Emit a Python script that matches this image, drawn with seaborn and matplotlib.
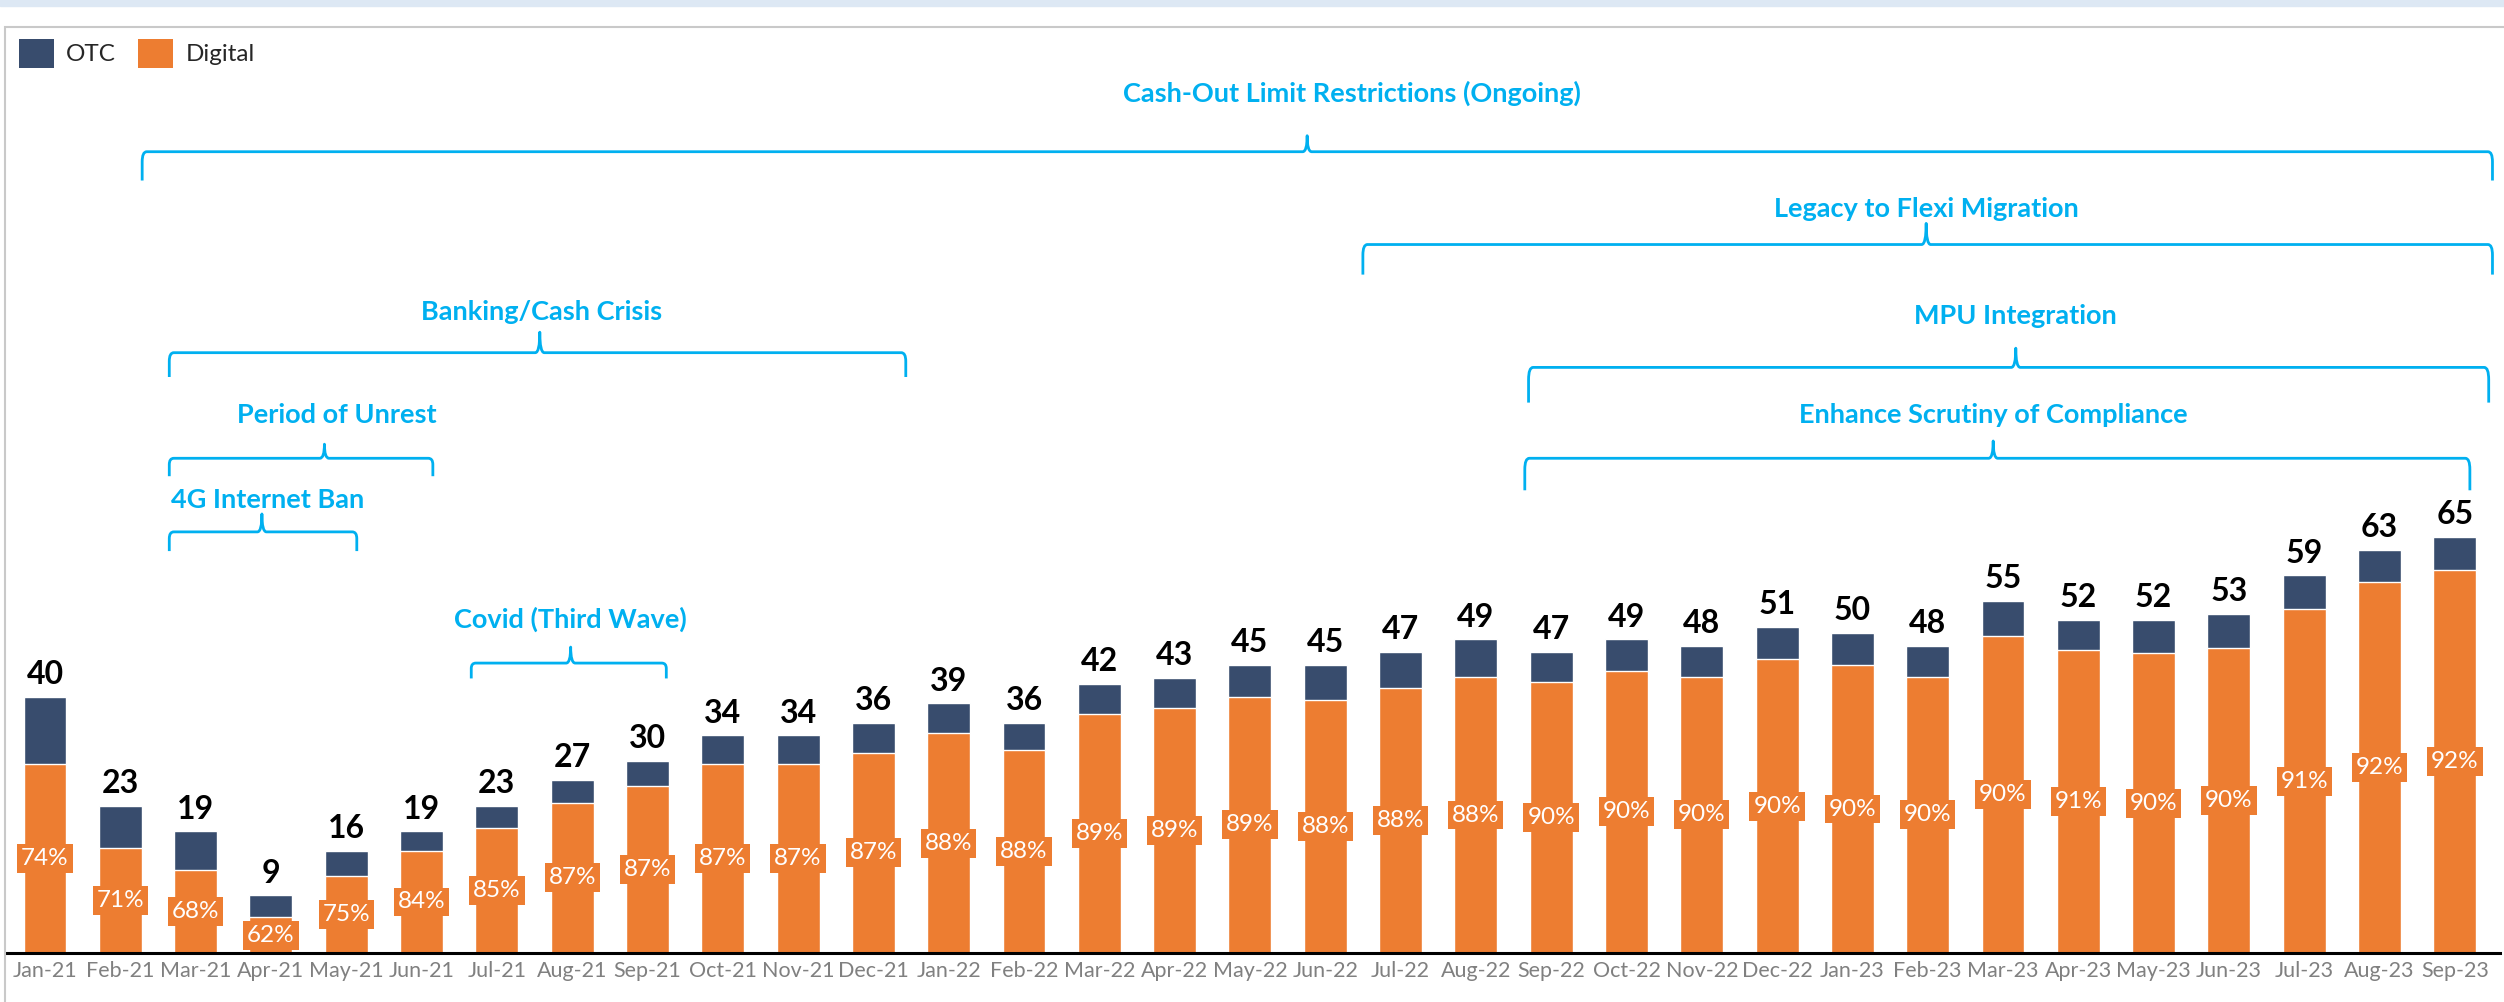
import matplotlib
matplotlib.use("Agg")
import matplotlib.pyplot as plt
import seaborn as sns
import pandas as pd
from matplotlib.patches import Rectangle, Patch, PathPatch
from matplotlib.path import Path

# ---------------- data ----------------
months = ["Jan-21", "Feb-21", "Mar-21", "Apr-21", "May-21", "Jun-21", "Jul-21", "Aug-21", "Sep-21",
          "Oct-21", "Nov-21", "Dec-21", "Jan-22", "Feb-22", "Mar-22", "Apr-22", "May-22", "Jun-22",
          "Jul-22", "Aug-22", "Sep-22", "Oct-22", "Nov-22", "Dec-22", "Jan-23", "Feb-23", "Mar-23",
          "Apr-23", "May-23", "Jun-23", "Jul-23", "Aug-23", "Sep-23"]
totals = [40, 23, 19, 9, 16, 19, 23, 27, 30, 34, 34, 36,
          39, 36, 42, 43, 45, 45, 47, 49, 47, 49, 48, 51,
          50, 48, 55, 52, 52, 53, 59, 63, 65]
digital_pct = [74, 71, 68, 62, 75, 84, 85, 87, 87, 87, 87, 87,
               88, 88, 89, 89, 89, 88, 88, 88, 90, 90, 90, 90,
               90, 90, 90, 91, 90, 90, 91, 92, 92]

# event brackets: label, start index, end index
event_labels = ["Cash-Out Limit Restrictions (Ongoing)", "Legacy to Flexi Migration", "MPU Integration",
                "Enhance Scrutiny of Compliance", "Banking/Cash Crisis", "Period of Unrest",
                "4G Internet Ban", "Covid (Third Wave)"]
event_start = [1.29, 17.5, 19.7, 19.65, 1.65, 1.65, 1.65, 5.66]
event_end = [32.5, 32.5, 32.45, 32.2, 11.43, 5.15, 4.14, 8.25]

# ---------------- style ----------------
OTC = "#384C6D"
ORANGE = "#ED7D31"
BLUE = "#00B0F0"

sns.set_theme(style="white")
plt.rcParams['font.family'] = ['Lato', 'DejaVu Sans']

W, H = 2504, 1002
fig = plt.figure(figsize=(W / 100, H / 100), dpi=100)
fig.patch.set_facecolor("white")
fig.patches.append(Rectangle((0, 1 - 6 / H), 1, 6 / H, transform=fig.transFigure,
                             color="#DDE8F4", zorder=0))
fig.patches.append(Rectangle((5 / W, -0.02), 1.0, (H - 27) / H + 0.02, transform=fig.transFigure,
                             fill=False, edgecolor="#C9C9C9", lw=1.5, zorder=0))

ax = fig.add_axes([7 / W, (H - 953) / H, (2500 - 7) / W, (953 - 40) / H])
ax.set_facecolor("none")

df = pd.DataFrame({
    "month": months,
    "total": totals,
    "digital": [t * p / 100 for t, p in zip(totals, digital_pct)],
})

sns.barplot(data=df, x="month", y="total", color=OTC, width=0.57, saturation=1, ax=ax, zorder=2)
sns.barplot(data=df, x="month", y="digital", color=ORANGE, width=0.57, saturation=1, ax=ax, zorder=3)

ax.set_xlim(-0.505, 32.6)
ax.set_ylim(0, 913 / 6.4)
ax.set_xlabel("")
ax.set_ylabel("")
ax.set_yticks([])
for s in ["top", "left", "right"]:
    ax.spines[s].set_visible(False)
ax.spines["bottom"].set_color("black")
ax.spines["bottom"].set_linewidth(2.2)
ax.spines["bottom"].set_zorder(5)
ax.tick_params(axis="x", length=0, pad=6, labelsize=15.5, labelcolor="#808080")

for i, (t, d, p) in enumerate(zip(df["total"], df["digital"], digital_pct)):
    ax.text(i, t + 2.0, f"{t}", ha="center", va="baseline", fontsize=23,
            fontweight="bold", color="black", zorder=6)
    ax.text(i, d / 2, f"{p}%", ha="center", va="center", fontsize=17.5, color="white", zorder=6,
            bbox=dict(boxstyle="square,pad=0.16", fc=ORANGE, ec="none"))

# ---------------- brackets ----------------
# vertical levels in data units: text, line, ends, tip ; and tip x, text x
levels = [
    (134.4, 125.2, 120.7, 127.7, 16.76, 17.35),
    (116.2, 110.7, 106.0, 114.0, 24.98, 24.98),
    (99.5, 91.5, 86.0, 94.5, 26.17, 26.17),
    (84.0, 77.3, 72.3, 80.0, 25.87, 25.87),
    (100.2, 93.8, 90.0, 97.0, 6.57, 6.60),
    (84.0, 77.3, 74.5, 79.5, 3.71, 3.88),
    (70.8, 65.8, 62.8, 68.6, 2.88, 2.95),
    (52.1, 45.3, 42.9, 47.8, 6.98, 6.98),
]


def bracket(ax, x0, x1, y_line, y_end, y_tip, xt):
    dx = 0.06
    dy = (y_line - y_end) * 0.35
    verts = [
        (x0, y_end), (x0, y_line - dy), (x0, y_line), (x0 + dx, y_line),
        (xt - dx, y_line),
        (xt, y_line), (xt, y_tip),
        (xt, y_line), (xt + dx, y_line),
        (x1 - dx, y_line),
        (x1, y_line), (x1, y_line - dy), (x1, y_end),
    ]
    codes = [Path.MOVETO, Path.LINETO, Path.CURVE3, Path.CURVE3,
             Path.LINETO,
             Path.CURVE3, Path.CURVE3,
             Path.CURVE3, Path.CURVE3,
             Path.LINETO,
             Path.CURVE3, Path.CURVE3, Path.LINETO]
    ax.add_patch(PathPatch(Path(verts, codes), fill=False, edgecolor=BLUE, lw=2.0,
                           capstyle="butt", joinstyle="round", clip_on=False, zorder=4))


for lab, x0, x1, lv in zip(event_labels, event_start, event_end, levels):
    y_text, y_line, y_end, y_tip, xt, xtext = lv
    bracket(ax, x0, x1, y_line, y_end, y_tip, xt)
    ax.text(xtext, y_text, lab, ha="center", va="center", fontsize=19.5, fontweight="bold",
            color=BLUE, zorder=6)

# ---------------- legend ----------------
handles = [Patch(facecolor=OTC, edgecolor="none", label="OTC"),
           Patch(facecolor=ORANGE, edgecolor="none", label="Digital")]
fig.legend(handles=handles, loc="upper left", bbox_to_anchor=(14 / W, 1 - 34 / H), ncol=2,
           frameon=False, fontsize=17.5, handlelength=1.45, handleheight=1.45,
           handletextpad=0.5, columnspacing=0.9, borderaxespad=0, borderpad=0.2)

fig.savefig("out.png", dpi=100, facecolor="white")
